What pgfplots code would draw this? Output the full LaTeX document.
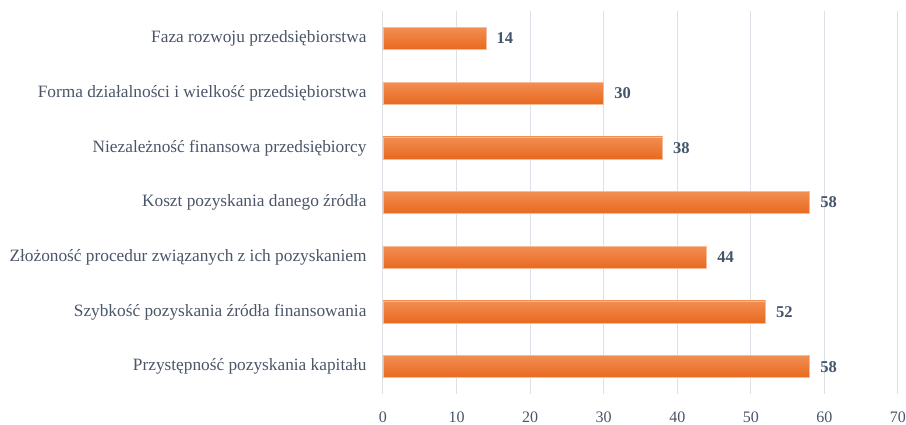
\documentclass[border=0pt]{standalone}
\usepackage{pgfplots}
\pgfplotsset{compat=1.18}
\usepackage{fontspec}
\setmainfont{Liberation Serif}
\definecolor{txt}{HTML}{4A5568}
\definecolor{vals}{HTML}{44546A}
\definecolor{gridc}{HTML}{DCE1E8}
\definecolor{barTop}{HTML}{F28E52}
\definecolor{barBot}{HTML}{E8691F}
\pgfplotsset{barsty/.style={draw=barTop!60!white, line width=0.5pt,
    top color=barTop, bottom color=barBot}}

\begin{document}
\begin{tikzpicture}
\path[use as bounding box] (-383pt,-31pt) rectangle (523pt,394pt);
\begin{axis}[
  at={(0,0)}, anchor=south west,
  scale only axis, width=515pt, height=383pt,
  xbar, bar width=22pt, bar shift=0pt,
  xmin=0, xmax=70, ymin=-0.5, ymax=6.5,
  xtick={0,10,...,70},
  ytick={0,1,2,3,4,5,6},
  yticklabels={{Przystępność pozyskania kapitału},
               {Szybkość pozyskania źródła finansowania},
               {Złożoność procedur związanych z ich pozyskaniem},
               {Koszt pozyskania danego źródła},
               {Niezależność finansowa przedsiębiorcy},
               {Forma działalności i wielkość przedsiębiorstwa},
               {Faza rozwoju przedsiębiorstwa}},
  axis line style={draw=none},
  major tick length=0pt,
  xmajorgrids, grid style={gridc, line width=1pt},
  yticklabel style={font=\fontsize{17.3}{20}\selectfont, text=txt, xshift=-13pt},
  xticklabel style={font=\fontsize{16}{19}\selectfont, text=txt, yshift=-14pt},
  /pgf/number format/assume math mode=true,
  nodes near coords,
  every node near coord/.append style={font=\fontsize{16.5}{19}\selectfont\bfseries,
    text=vals, anchor=west, xshift=7pt},
]
\addplot[barsty] coordinates {(58,0)};
\addplot[barsty] coordinates {(52,1)};
\addplot[barsty] coordinates {(44,2)};
\addplot[barsty] coordinates {(58,3)};
\addplot[barsty] coordinates {(38,4)};
\addplot[barsty] coordinates {(30,5)};
\addplot[barsty] coordinates {(14,6)};
\end{axis}
\end{tikzpicture}
\end{document}
